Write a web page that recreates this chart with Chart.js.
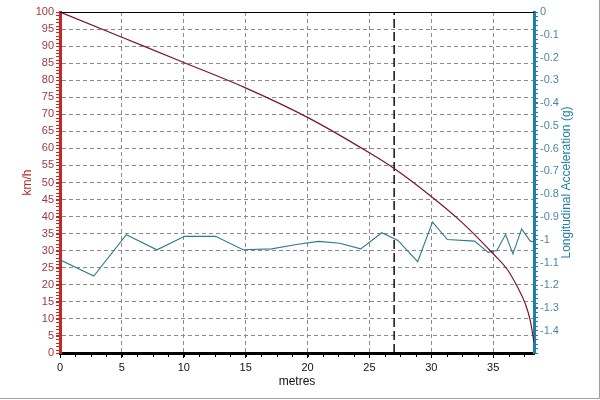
<!DOCTYPE html>
<html>
<head>
<meta charset="utf-8">
<title>Speed and longitudinal acceleration vs distance</title>
<script src="https://cdn.jsdelivr.net/npm/chart.js@4.4.1/dist/chart.umd.min.js"></script>
<style>
  html, body { margin: 0; padding: 0; background: #fff; }
  #chart { display: block; }
</style>
</head>
<body>
<canvas id="chart" width="600" height="400"></canvas>
<script>
// speed trace (left axis)
const speedDistance = [0, 5, 10, 14.9, 20, 25, 27, 30, 32.3, 33.7, 35, 36.1, 36.9, 37.6, 38.0, 38.3];
const speedKmh      = [100, 92.6, 85.2, 77.9, 69.1, 58.7, 54.1, 45.9, 38.9, 34, 29.1, 24.7, 19.8, 14.4, 9.5, 3];

// longitudinal acceleration trace (right axis)
const accelDistance = [0, 2.73, 5.36, 7.83, 10.07, 12.56, 14.8, 17.1, 19.1, 20.9, 22.6, 24.3, 26.0, 27.3, 28.9, 30.1, 31.3, 33.5, 34.6, 35.3, 36.0, 36.6, 37.3, 38.0, 38.3];
const accelG        = [-1.088, -1.159, -0.978, -1.044, -0.985, -0.985, -1.044, -1.040, -1.021, -1.007, -1.015, -1.040, -0.969, -1.003, -1.096, -0.922, -0.999, -1.006, -1.055, -1.047, -0.977, -1.062, -0.952, -1.006, -1.01];

// cursor marker
const markerDistance = 27;

const xRange = [0, 38.3];
const speedRange = [0, 100];
const accelRange = [-1.497, 0];

const RED = '#c62828';
const TEAL = '#1f7fa6';
const GRID = '#8a8a8a';

const toPoints = (xs, ys) => xs.map((x, i) => ({ x, y: ys[i] }));

// small unlabeled ticks between the labelled ones
const minorTicks = {
  id: 'minorTicks',
  afterDraw(chart) {
    const ctx = chart.ctx;
    const specs = [
      { id: 'x', step: 1.25, color: '#000', len: 3 },
      { id: 'y', step: 1, color: RED, len: 3 },
      { id: 'y1', step: 0.02, color: TEAL, len: 3 }
    ];
    ctx.save();
    ctx.lineWidth = 1;
    specs.forEach(s => {
      const sc = chart.scales[s.id];
      ctx.strokeStyle = s.color;
      ctx.beginPath();
      const n = Math.floor((sc.max - sc.min) / s.step + 1e-6);
      for (let i = 0; i <= n; i++) {
        const v = sc.min + i * s.step;
        const p = Math.round(sc.getPixelForValue(v)) + 0.5;
        if (s.id === 'x') {
          ctx.moveTo(p, sc.top + 1); ctx.lineTo(p, sc.top + 1 + s.len);
        } else if (s.id === 'y') {
          ctx.moveTo(sc.right - 1, p); ctx.lineTo(sc.right - 1 - s.len, p);
        } else {
          ctx.moveTo(sc.left + 1, p); ctx.lineTo(sc.left + 1 + s.len, p);
        }
      }
      ctx.stroke();
    });
    ctx.restore();
  }
};

// top border, outer frame and the right axis title (reads bottom to top)
const frame = {
  id: 'frame',
  afterDraw(chart) {
    const { ctx, chartArea: a } = chart;
    ctx.save();
    ctx.strokeStyle = '#000';
    ctx.lineWidth = 1;
    ctx.beginPath();
    ctx.moveTo(a.left, Math.round(a.top) + 0.5);
    ctx.lineTo(a.right, Math.round(a.top) + 0.5);
    ctx.stroke();

    ctx.strokeStyle = '#a0a0a0';
    ctx.beginPath();
    ctx.moveTo(0, 398.5); ctx.lineTo(599.5, 398.5); ctx.lineTo(599.5, 0);
    ctx.stroke();

    ctx.translate(567, (a.top + a.bottom) / 2);
    ctx.rotate(-Math.PI / 2);
    ctx.fillStyle = TEAL;
    ctx.font = '12px "Liberation Sans", Arial, sans-serif';
    ctx.textAlign = 'center';
    ctx.textBaseline = 'middle';
    ctx.fillText('Longitudinal Acceleration (g)', 0, 0);
    ctx.restore();
  }
};

const tickFont = { family: '"Liberation Sans", Arial, sans-serif', size: 11 };

new Chart(document.getElementById('chart'), {
  type: 'scatter',
  data: {
    datasets: [
      {
        label: 'km/h',
        data: toPoints(speedDistance, speedKmh),
        yAxisID: 'y',
        showLine: true,
        borderColor: '#7d1230',
        borderWidth: 1.2,
        pointRadius: 0,
        cubicInterpolationMode: 'monotone',
        order: 1
      },
      {
        label: 'Longitudinal Acceleration (g)',
        data: toPoints(accelDistance, accelG),
        yAxisID: 'y1',
        showLine: true,
        borderColor: '#2f7b8c',
        borderWidth: 1.1,
        pointRadius: 0,
        tension: 0,
        order: 2
      },
      {
        label: 'cursor',
        data: [{ x: markerDistance, y: speedRange[0] }, { x: markerDistance, y: speedRange[1] }],
        yAxisID: 'y',
        showLine: true,
        borderColor: '#111',
        borderWidth: 1.5,
        borderDash: [9, 4],
        pointRadius: 0,
        order: 3
      }
    ]
  },
  options: {
    responsive: false,
    animation: false,
    devicePixelRatio: 1,
    layout: { padding: { top: 12, left: 0, right: 0, bottom: 0 } },
    plugins: { legend: { display: false }, tooltip: { enabled: false } },
    scales: {
      x: {
        type: 'linear',
        min: xRange[0],
        max: xRange[1],
        afterFit: s => { s.height = 47; },
        ticks: { stepSize: 5, includeBounds: false, color: '#111', font: tickFont, padding: 3, maxRotation: 0 },
        grid: { color: GRID, tickColor: '#000', tickLength: 5, tickBorderDash: [] },
        border: { color: '#000', width: 3, dash: [4, 3] },
        title: { display: true, text: 'metres', color: '#111', font: { family: tickFont.family, size: 12 }, padding: { top: 0, bottom: 11 } }
      },
      y: {
        position: 'left',
        min: speedRange[0],
        max: speedRange[1],
        afterFit: s => { s.width = 60; },
        ticks: { stepSize: 5, color: '#9e3838', font: tickFont, padding: 2 },
        grid: { color: GRID, tickColor: RED, tickLength: 4, tickBorderDash: [] },
        border: { color: RED, width: 3, dash: [4, 3] },
        title: { display: true, text: 'km/h', color: '#b02a2a', font: { family: tickFont.family, size: 12 }, padding: { top: 20, bottom: 0 } }
      },
      y1: {
        position: 'right',
        min: accelRange[0],
        max: accelRange[1],
        afterFit: s => { s.width = 66; },
        ticks: {
          stepSize: 0.1,
          includeBounds: false,
          color: '#4f86a8',
          font: tickFont,
          padding: 2,
          callback: v => String(Math.round(v * 10) / 10)
        },
        grid: { drawOnChartArea: false, color: TEAL, tickColor: TEAL, tickLength: 4, tickBorderDash: [] },
        border: { color: TEAL, width: 3 },
        title: { display: false }
      }
    }
  },
  plugins: [minorTicks, frame]
});
</script>
</body>
</html>
